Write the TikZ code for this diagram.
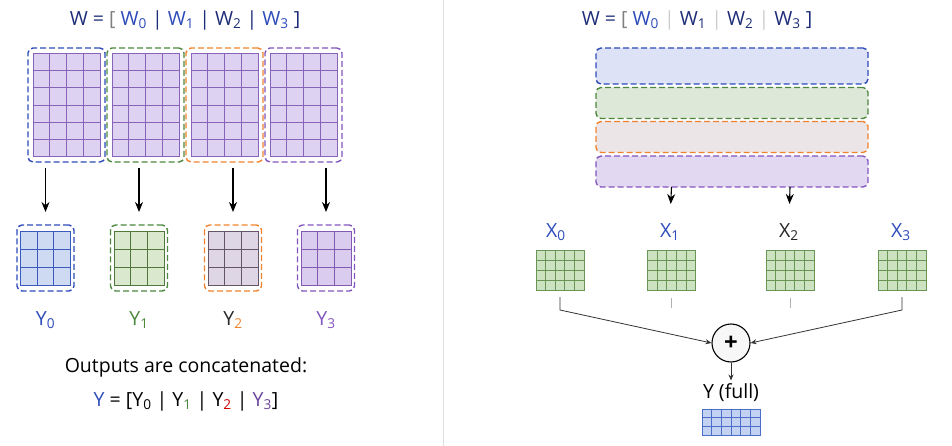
\documentclass[tikz,border=0pt]{standalone}
\usepackage{fontspec}
\setmainfont{Open Sans}
\usetikzlibrary{arrows.meta, positioning}

\definecolor{navy}{RGB}{30,45,120}
\definecolor{wblue}{RGB}{45,75,185}
\definecolor{wgreen}{RGB}{75,135,60}
\definecolor{worange}{RGB}{240,130,45}
\definecolor{wpurple}{RGB}{130,85,190}
\definecolor{fillpurple}{RGB}{222,210,242}
\definecolor{linepurple}{RGB}{135,100,185}
\definecolor{yfill0}{RGB}{205,218,242}
\definecolor{yline0}{RGB}{60,90,190}
\definecolor{yfill1}{RGB}{218,232,205}
\definecolor{yline1}{RGB}{80,120,60}
\definecolor{yfill2}{RGB}{222,214,228}
\definecolor{yline2}{RGB}{100,85,105}
\definecolor{yfill3}{RGB}{218,204,238}
\definecolor{yline3}{RGB}{130,90,180}
\definecolor{xfill}{RGB}{205,226,192}
\definecolor{xline}{RGB}{105,150,85}
\definecolor{fullfill}{RGB}{195,210,242}
\definecolor{fullline}{RGB}{75,110,200}

\begin{document}
\begin{tikzpicture}[
    x=1pt, y=1pt,
    font=\fontsize{19.5}{23}\selectfont,
    dashbox/.style={rectangle, dashed, dash pattern=on 6pt off 3pt, line width=1.4pt, rounded corners=5pt, inner sep=0pt, outer sep=0pt},
    gridbox/.style={rectangle, line width=0.9pt, inner sep=0pt, outer sep=0pt},
    arrow/.style={-{Stealth[length=10pt, width=8pt]}, line width=1.1pt, draw=black},
    sumline/.style={-{Stealth[length=6pt, width=5pt]}, line width=0.8pt, draw=black!80},
    ticklines/.style={line width=0.8pt, draw=gray!60}
]
    \useasboundingbox (0,0) rectangle (952,-446);
    \draw[gray!25, line width=1pt] (443,0) -- (443,-446);

    % ---- left: column split ----
    \node[text=navy] (wtitle) at (185,-20) {W = {\color{gray}[} {\color{wblue}W\textsubscript{0}} | {\color{wblue}W\textsubscript{1}} | W\textsubscript{2} | {\color{wblue}W\textsubscript{3}} ]};

    \foreach \i/\cx/\col in {0/66.5/wblue, 1/145.5/wgreen, 2/224.5/worange, 3/303.5/wpurple} {
        \node[dashbox, draw=\col, minimum width=77pt, minimum height=114pt] (w\i) at (\cx,-105) {};
        \node[gridbox, draw=linepurple, fill=fillpurple, minimum width=67pt, minimum height=103pt] (wg\i) at (\cx,-105) {};
        \draw[linepurple, line width=0.7pt, shift={(wg\i.south west)}, xstep=16.75, ystep=17.1667] (0,0) grid (67,103);
    }

    \foreach \i/\cx/\col in {0/45.5/wblue, 1/139/wgreen, 2/233/worange, 3/326/wpurple} {
        \node[dashbox, draw=\col, minimum width=57pt, minimum height=66pt] (y\i) at (\cx,-258) {};
        \node[gridbox, draw=yline\i, fill=yfill\i, minimum width=50pt, minimum height=54pt] (yg\i) at (\cx,-258) {};
        \draw[yline\i, line width=0.8pt, shift={(yg\i.south west)}, xstep=16.6667, ystep=18] (0,0) grid (50,54);
        \draw[arrow, shorten <=6pt, shorten >=13pt] (w\i.south -| y\i.north) -- (y\i.north);
    }

    \node[text=wblue] (ly0) at (45.5,-320) {Y\textsubscript{0}};
    \node[text=wgreen] (ly1) at (139,-320) {Y\textsubscript{1}};
    \node[text=black!85] (ly2) at (233,-320) {Y\textsubscript{\color{worange}2}};
    \node[text=wpurple] (ly3) at (326,-320) {Y\textsubscript{3}};

    \node (concat) at (186,-367) {Outputs are concatenated:};
    \node[below=8pt of concat] (yeq) {{\color{wblue}Y} = [Y\textsubscript{0} | Y\textsubscript{\color{wgreen}1} | Y\textsubscript{\color{red!80!black}2} | {\color{wpurple!80!black}Y\textsubscript{3}}]};

    % ---- right: row split ----
    \node[text=navy] (rtitle) at (697,-20) {W = {\color{gray}[} {\color{wblue}W\textsubscript{0}} {\color{gray!40}|} W\textsubscript{1} {\color{gray!40}|} W\textsubscript{2} {\color{gray!40}|} W\textsubscript{3} ]};

    \node[dashbox, draw=wblue, fill={rgb,255:red,222;green,226;blue,246}, minimum width=272pt, minimum height=36pt] (s0) at (732,-66) {};
    \node[dashbox, draw=wgreen, fill={rgb,255:red,222;green,232;blue,216}, minimum width=272pt, minimum height=31pt] (s1) at (732,-103) {};
    \node[dashbox, draw=worange, fill={rgb,255:red,236;green,229;blue,232}, minimum width=272pt, minimum height=31pt] (s2) at (732,-137) {};
    \node[dashbox, draw=wpurple, fill={rgb,255:red,226;green,216;blue,242}, minimum width=272pt, minimum height=31pt] (s3) at (732,-171.5) {};

    \node[text=wblue] (lx0) at (556,-232) {X\textsubscript{0}};
    \node[text=wblue] (lx1) at (670,-232) {X\textsubscript{1}};
    \node[text=black!85] (lx2) at (789,-232) {X\textsubscript{2}};
    \node[text=wblue] (lx3) at (901,-232) {X\textsubscript{3}};

    \foreach \i/\cx in {0/560, 1/671.5, 2/790, 3/902} {
        \node[gridbox, draw=xline, fill=xfill, minimum width=48pt, minimum height=40pt] (xg\i) at (\cx,-270) {};
        \draw[xline, line width=0.7pt, shift={(xg\i.south west)}, xstep=9.6, ystep=10] (0,0) grid (48,40);
    }

    \draw[arrow, shorten >=16pt] (s3.south -| xg1.north) -- (lx1.north);
    \draw[arrow, shorten >=16pt] (s3.south -| xg2.north) -- (lx2.north);

    \node[circle, draw, line width=1.1pt, fill=gray!6, minimum size=38pt, inner sep=0pt, font=\fontsize{24}{26}\selectfont\bfseries] (plus) at (731,-343) {+};

    \draw[sumline, shorten <=7pt] (xg0.south) -- ++(0,-20) -- (plus.west);
    \draw[sumline, shorten <=7pt] (xg3.south) -- ++(0,-20) -- (plus.east);
    \draw[ticklines] ([yshift=-8pt]xg1.south) -- ([yshift=-18pt]xg1.south);
    \draw[ticklines] ([yshift=-8pt]xg2.south) -- ([yshift=-18pt]xg2.south);

    \node (yfull) at (731,-393) {Y (full)};
    \draw[sumline] (plus.south) -- (yfull.north);

    \node[gridbox, draw=fullline, fill=fullfill, minimum width=58pt, minimum height=26pt] (yg) at (731,-422) {};
    \draw[fullline, line width=0.7pt, shift={(yg.south west)}, xstep=9.6667, ystep=8.6667] (0,0) grid (58,26);
\end{tikzpicture}
\end{document}
